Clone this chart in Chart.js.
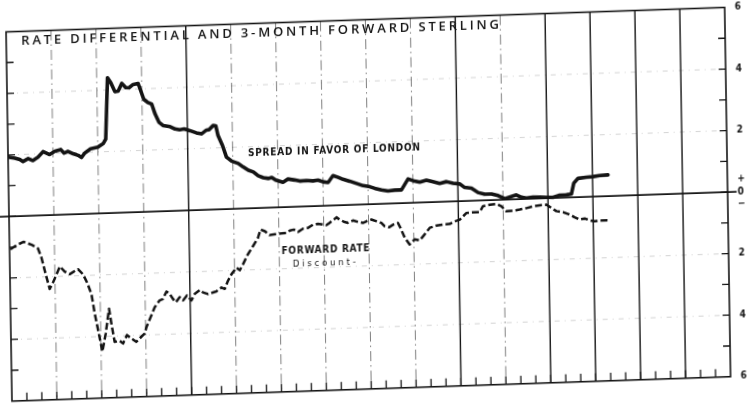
<!DOCTYPE html>
<html>
<head>
<meta charset="utf-8">
<script src="https://cdn.jsdelivr.net/npm/chart.js@4.4.1/dist/chart.umd.min.js"></script>
<style>
    html, body { margin: 0; padding: 0; background: #fff; overflow: hidden; }
    #wrap {
        width: 748px;
        height: 405px;
        transform-origin: 374px 202.5px;
        transform: matrix(1, -0.034, 0.016, 1, 0, 0);
    }
</style>
</head>
<body>
<div id="wrap"><canvas id="chart" width="748" height="405"></canvas></div>
<script>
// months from start of chart (48 months shown), percent per annum
const spreadMonths = [
    0.0, 0.45, 0.78, 1.0, 1.34, 1.66, 2.0, 2.34, 2.78, 3.12,
    3.52, 3.74, 4.01, 4.35, 4.68, 4.90, 5.13, 5.51, 6.02, 6.36,
    6.54, 6.72, 6.94, 7.20, 7.42, 7.67, 7.93, 8.15, 8.42, 8.76,
    8.97, 9.12, 9.39, 9.65, 9.86, 10.12, 10.40, 10.85, 11.18, 11.49,
    11.78, 12.16, 12.60, 12.94, 13.27, 13.45, 13.72, 13.90, 14.04, 14.33,
    14.58, 14.93, 15.36, 15.69, 16.03, 16.36, 16.68, 17.02, 17.35, 17.58,
    17.84, 18.33, 18.66, 19.11, 19.45, 19.89, 20.33, 20.67, 21.00, 21.34,
    21.67, 22.01, 22.34, 22.78, 23.23, 23.67, 24.11, 24.45, 24.89, 25.33,
    25.78, 26.23,
    26.68, 27.12, 27.46, 27.90, 28.34, 28.79, 29.24, 29.68, 30.13, 30.45,
    30.90, 31.34, 31.78, 32.23, 32.67, 33.11, 33.44, 33.89, 34.23, 34.56,
    35.00, 35.45, 35.90, 36.34, 36.74, 37.24, 37.57, 37.74, 38.03, 38.59,
    39.03, 39.48, 40.03,
];
const spreadValues = [
    1.93, 1.89, 1.84, 1.77, 1.86, 1.79, 1.90, 2.07, 1.97, 2.07,
    2.12, 2.00, 2.05, 1.97, 1.91, 1.84, 1.98, 2.11, 2.16, 2.26,
    2.41, 4.40, 4.23, 3.94, 3.95, 4.20, 4.06, 4.05, 4.15, 4.18,
    3.88, 3.66, 3.55, 3.49, 3.17, 2.89, 2.78, 2.74, 2.66, 2.63,
    2.65, 2.59, 2.51, 2.47, 2.59, 2.60, 2.73, 2.72, 2.40, 2.07,
    1.69, 1.55, 1.47, 1.35, 1.24, 1.18, 1.05, 0.98, 0.95, 0.98,
    0.89, 0.81, 0.91, 0.87, 0.83, 0.84, 0.82, 0.84, 0.78, 0.75,
    0.97, 0.91, 0.84, 0.77, 0.69, 0.61, 0.57, 0.51, 0.45, 0.41,
    0.43, 0.43,
    0.78, 0.70, 0.66, 0.72, 0.66, 0.60, 0.65, 0.59, 0.56, 0.44,
    0.41, 0.26, 0.20, 0.20, 0.14, 0.03, 0.08, 0.14, 0.06, 0.03,
    0.05, 0.04, 0.03, 0.02, 0.08, 0.09, 0.11, 0.46, 0.61, 0.64,
    0.65, 0.68, 0.69,
];

const forwardMonths = [
    0.06, 0.47, 0.95, 1.47, 1.90, 2.12, 2.33, 2.64, 2.87, 3.11,
    3.34, 3.66, 3.99, 4.27, 4.55, 4.88, 5.14, 5.42, 5.62, 5.87,
    6.09, 6.33, 6.58, 6.72, 6.92, 7.26, 7.48, 7.75, 8.04, 8.37,
    8.71, 8.94, 9.06, 9.40, 9.63, 9.97, 10.19, 10.43, 10.65, 10.86,
    11.05, 11.31, 11.53, 11.80, 12.09, 12.32, 12.66, 12.87, 13.20,
    13.77, 14.11, 14.33, 14.55, 14.79, 15.13, 15.35, 15.57, 15.91, 16.26,
    16.60, 16.77, 17.06, 17.38, 17.84, 18.17, 18.50, 18.73, 19.00, 19.28,
    19.62, 19.95, 20.29, 20.62, 20.95, 21.18, 21.40, 21.68, 21.86, 22.08,
    22.40, 22.62, 22.96, 23.29, 23.62, 23.86, 24.19, 24.53, 24.85, 25.07,
    25.36, 25.63, 25.96, 26.12, 26.40, 26.72, 27.06, 27.40, 27.73, 28.08,
    28.52, 28.97, 29.41, 29.75, 30.09, 30.54, 30.98, 31.43, 31.65, 32.10,
    32.55, 32.88, 33.21, 33.65, 34.10, 34.55, 34.99, 35.44, 35.89, 36.22,
    36.55, 36.99, 37.44, 37.76, 38.10, 38.43, 38.77, 39.10, 39.43, 40.10,
];
const forwardValues = [
    -1.07, -0.94, -0.84, -0.94, -1.07, -1.37, -1.80, -2.40, -2.19, -1.93,
    -1.68, -1.85, -1.94, -1.86, -1.79, -1.96, -2.23, -2.61, -3.25, -3.90,
    -4.49, -3.91, -3.11, -3.59, -4.19, -4.16, -4.25, -3.98, -4.10, -4.21,
    -4.05, -3.95, -3.74, -3.37, -3.11, -2.89, -2.85, -2.61, -2.69, -2.86,
    -2.97, -2.81, -2.92, -2.76, -2.93, -2.72, -2.60, -2.68, -2.74,
    -2.66, -2.54, -2.59, -2.33, -2.12, -1.91, -2.00, -1.81, -1.49, -1.23,
    -0.97, -0.70, -0.76, -0.89, -0.86, -0.85, -0.84, -0.77, -0.74, -0.82,
    -0.72, -0.70, -0.60, -0.58, -0.61, -0.63, -0.56, -0.46, -0.39, -0.47,
    -0.55, -0.58, -0.51, -0.56, -0.60, -0.55, -0.50, -0.56, -0.62, -0.73,
    -0.77, -0.69, -0.64, -0.80, -1.13, -1.35, -1.19, -1.23, -1.04, -0.83,
    -0.77, -0.74, -0.73, -0.65, -0.60, -0.39, -0.38, -0.38, -0.19, -0.15,
    -0.13, -0.21, -0.38, -0.37, -0.34, -0.30, -0.25, -0.22, -0.21, -0.32,
    -0.43, -0.47, -0.56, -0.65, -0.73, -0.70, -0.77, -0.80, -0.78, -0.79,
];

const yTicks = [6, 4, 2, 0, -2, -4, -6];
const yFaintLines = [4, 2, -2, -4];
const solidMonths = [12, 30, 36, 39, 42, 45];

const ink = '#141414';
const condensed = '"DejaVu Sans Condensed", "DejaVu Sans"';

const toPoints = (xs, ys) => xs.map((m, i) => ({ x: m, y: ys[i] }));

// draws text spread out to a given width, like the lettering on the original
const spacedText = (ctx, text, x, y, width, font) => {
    ctx.font = font;
    ctx.letterSpacing = '0px';
    const plain = ctx.measureText(text).width;
    const gap = Math.max(0, (width - plain) / (text.length - 1));
    ctx.letterSpacing = gap + 'px';
    ctx.fillText(text, x, y);
    ctx.letterSpacing = '0px';
};

const paperGrid = {
    id: 'paperGrid',
    beforeDatasetsDraw(chart) {
        const { ctx, chartArea: a, scales: { x, y } } = chart;
        ctx.save();
        ctx.lineCap = 'butt';

        // faint dash-dot rulings at 2 and 4
        ctx.strokeStyle = 'rgba(0,0,0,0.22)';
        ctx.lineWidth = 0.8;
        ctx.setLineDash([5, 5, 1, 5]);
        yFaintLines.forEach((v) => {
            const py = y.getPixelForValue(v);
            ctx.beginPath();
            ctx.moveTo(a.left, py);
            ctx.lineTo(a.right, py);
            ctx.stroke();
        });

        // quarter lines
        for (let m = 3; m < 48; m += 3) {
            const px = x.getPixelForValue(m);
            const solid = solidMonths.includes(m);
            ctx.strokeStyle = solid ? ink : 'rgba(0,0,0,0.5)';
            ctx.lineWidth = solid ? 1.4 : 1;
            ctx.setLineDash(solid ? [] : [10, 4, 1.5, 4]);
            ctx.beginPath();
            ctx.moveTo(px, a.top);
            ctx.lineTo(px, a.bottom);
            ctx.stroke();
        }
        ctx.setLineDash([]);

        // monthly ticks along the bottom
        ctx.strokeStyle = ink;
        ctx.lineWidth = 1.3;
        for (let m = 1; m < 48; m++) {
            const px = x.getPixelForValue(m);
            ctx.beginPath();
            ctx.moveTo(px, a.bottom);
            ctx.lineTo(px, a.bottom - 8);
            ctx.stroke();
        }

        // unit ticks on both sides
        for (let v = -5; v <= 5; v++) {
            const py = y.getPixelForValue(v);
            ctx.beginPath();
            ctx.moveTo(a.left, py);
            ctx.lineTo(a.left + 7, py);
            ctx.moveTo(a.right, py);
            ctx.lineTo(a.right - 7, py);
            ctx.stroke();
        }

        // frame
        ctx.lineWidth = 1.6;
        ctx.strokeRect(a.left, a.top, a.right - a.left, a.bottom - a.top);

        // zero line runs past the frame
        const zy = y.getPixelForValue(0);
        ctx.lineWidth = 1.6;
        ctx.beginPath();
        ctx.moveTo(a.left - 12, zy);
        ctx.lineTo(a.right + 9, zy);
        ctx.stroke();

        ctx.restore();
    },
    afterDraw(chart) {
        const { ctx, chartArea: a } = chart;
        ctx.save();
        ctx.fillStyle = ink;
        ctx.textBaseline = 'alphabetic';
        ctx.textAlign = 'left';
        spacedText(ctx, 'RATE DIFFERENTIAL AND 3-MONTH FORWARD STERLING',
            a.left + 15, a.top + 13.5, 478, '600 13px "Open Sans", "DejaVu Sans"');
        spacedText(ctx, 'SPREAD IN FAVOR OF LONDON',
            249, 152, 172, 'bold 10px ' + condensed);
        spacedText(ctx, 'FORWARD RATE',
            281, 250.5, 88, 'bold 10px ' + condensed);
        spacedText(ctx, 'Discount-',
            292, 263.5, 63, '9.5px ' + condensed);
        ctx.restore();
    },
};

new Chart(document.getElementById('chart'), {
    type: 'line',
    data: {
        datasets: [
            {
                label: 'Spread in favor of London',
                data: toPoints(spreadMonths, spreadValues),
                borderColor: ink,
                borderWidth: 3.6,
                borderJoinStyle: 'round',
                borderCapStyle: 'round',
                pointRadius: 0,
                tension: 0,
            },
            {
                label: 'Forward rate',
                data: toPoints(forwardMonths, forwardValues),
                borderColor: ink,
                borderWidth: 2.5,
                borderDash: [7, 3],
                borderJoinStyle: 'round',
                pointRadius: 0,
                tension: 0,
            },
        ],
    },
    options: {
        responsive: false,
        animation: false,
        events: [],
        layout: {
            padding: { left: 9, top: 19.5, bottom: 12.5, right: 0 },
        },
        plugins: {
            legend: { display: false },
            tooltip: { enabled: false },
        },
        scales: {
            x: {
                type: 'linear',
                min: 0,
                max: 48,
                display: false,
            },
            y: {
                position: 'right',
                min: -6,
                max: 6,
                afterFit: (scale) => {
                    scale.width = 20;
                },
                afterBuildTicks: (scale) => {
                    scale.ticks = yTicks.map((v) => ({ value: v }));
                },
                grid: { display: false, drawTicks: false },
                border: { display: false },
                ticks: {
                    padding: 10,
                    color: ink,
                    font: {
                        family: condensed,
                        size: 10,
                        weight: 'bold',
                        lineHeight: 1.25,
                    },
                    callback: (value) => (value === 0 ? ['+', '0', '\u2212'] : String(Math.abs(value))),
                },
            },
        },
    },
    plugins: [paperGrid],
});
</script>
</body>
</html>
